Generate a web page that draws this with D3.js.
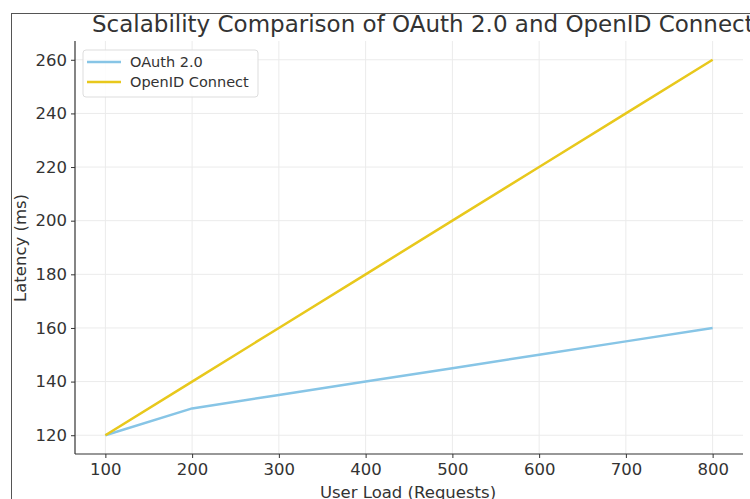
<!DOCTYPE html>
<html><head><meta charset="utf-8">
<script src="https://cdn.jsdelivr.net/npm/d3@7"></script>
<style>body{margin:0;background:#fff;} svg{display:block;font-family:"DejaVu Sans",sans-serif;}</style>
</head><body>
<script>
const userLoad = [100, 200, 300, 400, 500, 600, 700, 800];
const oauthLatency = [120, 130, 135, 140, 145, 150, 155, 160];
const oidcLatency = [120, 140, 160, 180, 200, 220, 240, 260];
const xTicks = [100, 200, 300, 400, 500, 600, 700, 800];
const yTicks = [120, 140, 160, 180, 200, 220, 240, 260];
const seriesNames = ["OAuth 2.0", "OpenID Connect"];
const seriesColors = ["#87c5e6", "#e8c81c"];

const W = 750, H = 499;
const m = {left: 75, right: 7, top: 41, bottom: 45};
const svg = d3.select("body").append("svg").attr("width", W).attr("height", H);

// outer frame
svg.append("rect").attr("x", 11.5).attr("y", 13.5).attr("width", 760).attr("height", 520)
  .attr("fill", "none").attr("stroke", "#555").attr("stroke-width", 1);

const x = d3.scaleLinear().domain([65, 835]).range([m.left, W - m.right]);
const y = d3.scaleLinear().domain([113, 267]).range([H - m.bottom, m.top]);

const g = svg.append("g");
// grid
g.selectAll(".gx").data(xTicks).enter().append("line")
  .attr("x1", d => x(d)).attr("x2", d => x(d)).attr("y1", y(113)).attr("y2", y(267))
  .attr("stroke", "#ebebeb").attr("stroke-width", 1);
g.selectAll(".gy").data(yTicks).enter().append("line")
  .attr("y1", d => y(d)).attr("y2", d => y(d)).attr("x1", x(65)).attr("x2", x(835))
  .attr("stroke", "#ebebeb").attr("stroke-width", 1);

// lines
const series = [oauthLatency, oidcLatency];
const line = d3.line().x((d, i) => x(userLoad[i])).y(d => y(d));
series.forEach((s, k) => {
  g.append("path").datum(s).attr("d", line).attr("fill", "none")
    .attr("stroke", seriesColors[k]).attr("stroke-width", 2.5).attr("stroke-linejoin", "round");
});

// axes
const xAxis = svg.append("g").attr("transform", `translate(0,${H - m.bottom})`)
  .call(d3.axisBottom(x).tickValues(xTicks).tickSize(4).tickPadding(5));
const yAxis = svg.append("g").attr("transform", `translate(${m.left},0)`)
  .call(d3.axisLeft(y).tickValues(yTicks).tickSize(4).tickPadding(4));
[xAxis, yAxis].forEach(a => {
  a.select(".domain").attr("stroke", "#333").attr("stroke-width", 1.2);
  a.selectAll(".tick line").attr("stroke", "#333");
  a.selectAll("text").attr("font-size", 16.5).attr("fill", "#333").attr("font-family", "DejaVu Sans");
});
xAxis.select(".domain").attr("d", `M${m.left},0H${W - m.right}`);
yAxis.select(".domain").attr("d", `M0,${y(113)}V${y(267)}`);

// labels
svg.append("text").attr("x", 408).attr("y", 498)
  .attr("text-anchor", "middle").attr("font-size", 16.5).attr("fill", "#333").text("User Load (Requests)");
svg.append("text").attr("transform", `translate(26,248) rotate(-90)`)
  .attr("text-anchor", "middle").attr("font-size", 16.5).attr("fill", "#333").text("Latency (ms)");
svg.append("text").attr("x", 92).attr("y", 32)
  .attr("text-anchor", "start").attr("font-size", 23).attr("fill", "#333").text("Scalability Comparison of OAuth 2.0 and OpenID Connect");

// legend
const lg = svg.append("g").attr("transform", "translate(83,50)");
lg.append("rect").attr("width", 175).attr("height", 47).attr("rx", 3)
  .attr("fill", "#fff").attr("fill-opacity", 0.85).attr("stroke", "#ddd");
seriesNames.forEach((n, k) => {
  const yy = 12 + k * 20;
  lg.append("line").attr("x1", 4).attr("x2", 38).attr("y1", yy).attr("y2", yy)
    .attr("stroke", seriesColors[k]).attr("stroke-width", 2.5);
  lg.append("text").attr("x", 47).attr("y", yy + 5).attr("font-size", 14.5).attr("fill", "#333").text(n);
});
</script>
</body></html>
